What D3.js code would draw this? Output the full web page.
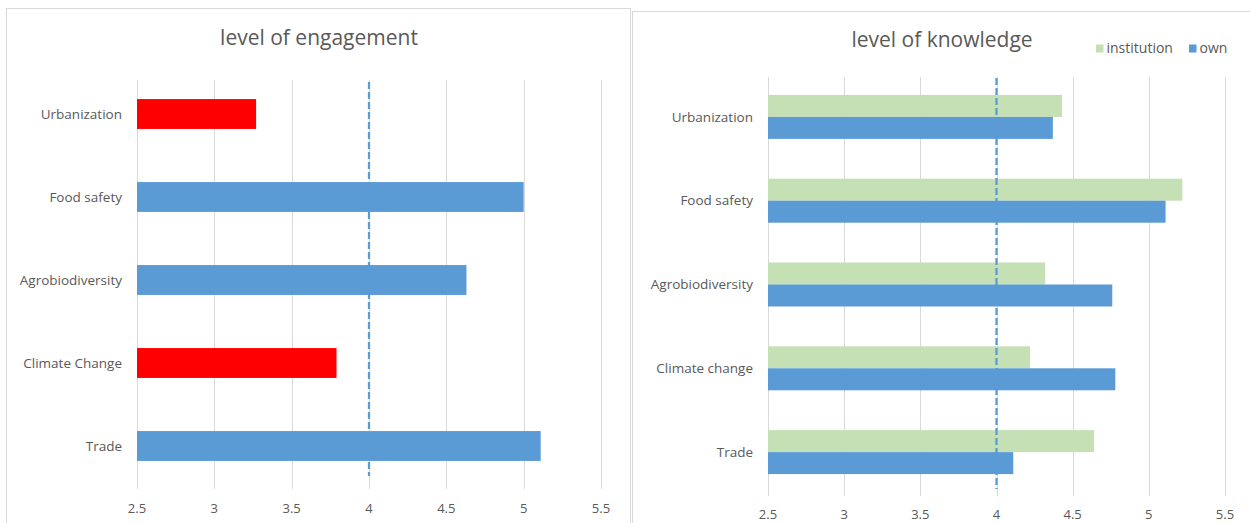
<!DOCTYPE html>
<html>
<head>
<meta charset="utf-8">
<script src="https://cdn.jsdelivr.net/npm/d3@7"></script>
<style>
  html, body { margin: 0; padding: 0; background: #fff; }
  svg { display: block; font-family: "Open Sans", "Noto Sans", sans-serif; }
</style>
</head>
<body>
<div id="chart"></div>
<script>
// data
const engageCats = ['Urbanization', 'Food safety', 'Agrobiodiversity', 'Climate Change', 'Trade'];
const engageValues = [3.27, 5.0, 4.63, 3.79, 5.11];
const engageColors = ['#ff0000', '#5b9bd5', '#5b9bd5', '#ff0000', '#5b9bd5'];

const knowCats = ['Urbanization', 'Food safety', 'Agrobiodiversity', 'Climate change', 'Trade'];
const institution = [4.43, 5.22, 4.32, 4.22, 4.64];
const own = [4.37, 5.11, 4.76, 4.78, 4.11];
const seriesNames = ['institution', 'own'];
const seriesColors = ['#c5e0b4', '#5b9bd5'];

const xTicks = [2.5, 3, 3.5, 4, 4.5, 5, 5.5];
const threshold = 4;

const W = 1250, H = 523;
const grid = '#d9d9d9';
const textCol = '#595959';

const svg = d3.select('#chart').append('svg')
  .attr('width', W)
  .attr('height', H);

// chart frames
svg.append('rect')
  .attr('x', 6.5).attr('y', 8.5)
  .attr('width', 624).attr('height', 530)
  .attr('fill', 'none').attr('stroke', grid);
svg.append('rect')
  .attr('x', 632.5).attr('y', 11.5)
  .attr('width', 640).attr('height', 530)
  .attr('fill', 'none').attr('stroke', grid);

function drawGrid(g, x, y0, y1, labelY) {
  g.selectAll('line.grid')
    .data(xTicks)
    .join('line')
    .attr('class', 'grid')
    .attr('x1', d => Math.round(x(d)) + 0.5)
    .attr('x2', d => Math.round(x(d)) + 0.5)
    .attr('y1', y0).attr('y2', y1)
    .attr('stroke', grid).attr('stroke-width', 1);

  g.selectAll('text.tick')
    .data(xTicks)
    .join('text')
    .attr('class', 'tick')
    .attr('x', d => x(d))
    .attr('y', labelY)
    .attr('text-anchor', 'middle')
    .attr('dy', '0.35em')
    .attr('font-size', 13)
    .attr('fill', textCol)
    .text(d => d);
}

function drawCatLabels(g, y, cats, labelX) {
  g.selectAll('text.cat')
    .data(cats)
    .join('text')
    .attr('class', 'cat')
    .attr('x', labelX)
    .attr('y', d => y(d) + y.bandwidth() / 2)
    .attr('text-anchor', 'end')
    .attr('dy', '0.35em')
    .attr('font-size', 13.5)
    .attr('fill', textCol)
    .text(d => d);
}

// ---- left: level of engagement ----
{
  const g = svg.append('g');
  const x = d3.scaleLinear().domain([2.5, 5.5]).range([137, 601]);
  const y = d3.scaleBand().domain(engageCats).range([72.5, 487.5])
    .paddingInner(0.64).paddingOuter(0.32);

  drawGrid(g, x, 80, 489, 508);

  g.selectAll('rect.bar')
    .data(engageValues)
    .join('rect')
    .attr('class', 'bar')
    .attr('x', x(2.5))
    .attr('y', (d, i) => y(engageCats[i]))
    .attr('width', d => x(d) - x(2.5))
    .attr('height', y.bandwidth())
    .attr('fill', (d, i) => engageColors[i]);

  drawCatLabels(g, y, engageCats, 122);

  g.append('line')
    .attr('x1', x(threshold)).attr('x2', x(threshold))
    .attr('y1', 82).attr('y2', 476)
    .attr('stroke', '#5b9bd5').attr('stroke-width', 2.25)
    .attr('stroke-dasharray', '7,3');

  g.append('text')
    .attr('x', 319).attr('y', 38)
    .attr('text-anchor', 'middle').attr('dy', '0.35em')
    .attr('font-size', 21).attr('fill', textCol)
    .text('level of engagement');
}

// ---- right: level of knowledge ----
{
  const g = svg.append('g');
  const x = d3.scaleLinear().domain([2.5, 5.5]).range([768, 1225]);
  const y = d3.scaleBand().domain(knowCats).range([75, 494])
    .paddingInner(0.475).paddingOuter(0.2375);
  const ySub = d3.scaleBand().domain(seriesNames).range([0, y.bandwidth()]);

  drawGrid(g, x, 77, 496, 514);

  const rows = knowCats.map((c, i) => ({ cat: c, values: [institution[i], own[i]] }));

  const grp = g.selectAll('g.cat')
    .data(rows)
    .join('g')
    .attr('class', 'cat')
    .attr('transform', d => `translate(0,${y(d.cat)})`);

  grp.selectAll('rect')
    .data(d => d.values.map((v, k) => ({ key: seriesNames[k], v: v, k: k })))
    .join('rect')
    .attr('x', x(2.5))
    .attr('y', d => ySub(d.key))
    .attr('width', d => x(d.v) - x(2.5))
    .attr('height', ySub.bandwidth())
    .attr('fill', d => seriesColors[d.k]);

  drawCatLabels(g, y, knowCats, 753);

  g.append('line')
    .attr('x1', x(threshold)).attr('x2', x(threshold))
    .attr('y1', 78).attr('y2', 489)
    .attr('stroke', '#5b9bd5').attr('stroke-width', 2.25)
    .attr('stroke-dasharray', '7,3');

  g.append('text')
    .attr('x', 942).attr('y', 40)
    .attr('text-anchor', 'middle').attr('dy', '0.35em')
    .attr('font-size', 21).attr('fill', textCol)
    .text('level of knowledge');

  // legend
  const legX = [1096, 1189];
  const leg = g.selectAll('g.leg')
    .data(seriesNames)
    .join('g')
    .attr('class', 'leg')
    .attr('transform', (d, i) => `translate(${legX[i]},48.5)`);
  leg.append('rect')
    .attr('x', 0).attr('y', -4)
    .attr('width', 7.5).attr('height', 8)
    .attr('fill', (d, i) => seriesColors[i]);
  leg.append('text')
    .attr('x', 10.5).attr('y', 0)
    .attr('dy', '0.35em')
    .attr('font-size', 14).attr('fill', textCol)
    .text(d => d);
}
</script>
</body>
</html>
